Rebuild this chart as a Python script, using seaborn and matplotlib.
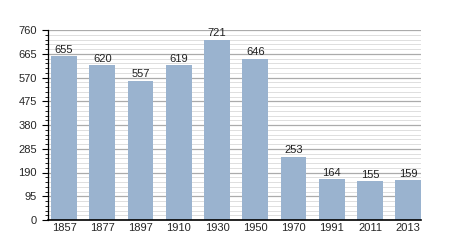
import matplotlib
matplotlib.use("Agg")
import matplotlib.pyplot as plt
import seaborn as sns
import pandas as pd
from matplotlib.ticker import MultipleLocator

years = ["1857", "1877", "1897", "1910", "1930", "1950", "1970", "1991", "2011", "2013"]
population = [655, 620, 557, 619, 721, 646, 253, 164, 155, 159]
y_ticks = [0, 95, 190, 285, 380, 475, 570, 665, 760]

df = pd.DataFrame({"year": years, "population": population})

sns.set_theme(style="white")
plt.rcParams["font.family"] = ["Liberation Sans", "DejaVu Sans"]

fig = plt.figure(figsize=(4.5, 2.5), dpi=100)
ax = fig.add_axes([48/450, 30/250, (421-48)/450, 190/250])

sns.barplot(data=df, x="year", y="population", color="#9ab3cf", saturation=1,
            width=0.67, ax=ax, zorder=3, linewidth=0, edgecolor="none")

for c in ax.containers:
    ax.bar_label(c, fmt="%d", fontsize=8, padding=1, color="#222222")

ax.set_ylim(0, 760)
ax.set_yticks(y_ticks)
ax.yaxis.set_minor_locator(MultipleLocator(19))
ax.set_xlim(-0.42, 9.335)
ax.grid(axis="y", which="major", color="#ababab", linewidth=0.9, zorder=0)
ax.grid(axis="y", which="minor", color="#dedede", linewidth=0.7, zorder=0)
ax.set_axisbelow(True)

for s in ["top", "right"]:
    ax.spines[s].set_visible(False)
for s in ["left", "bottom"]:
    ax.spines[s].set_color("black")
    ax.spines[s].set_zorder(5)
ax.spines["left"].set_linewidth(0.9)
ax.spines["bottom"].set_linewidth(1.2)

ax.tick_params(axis="y", which="major", length=4, width=0.8, color="black",
               labelsize=8, pad=4, left=True)
ax.tick_params(axis="y", which="minor", length=2, width=0.6, color="black", left=True)
ax.tick_params(axis="x", length=0, labelsize=8, pad=2)
ax.set_xlabel("")
ax.set_ylabel("")

fig.savefig("out.png", dpi=100)
